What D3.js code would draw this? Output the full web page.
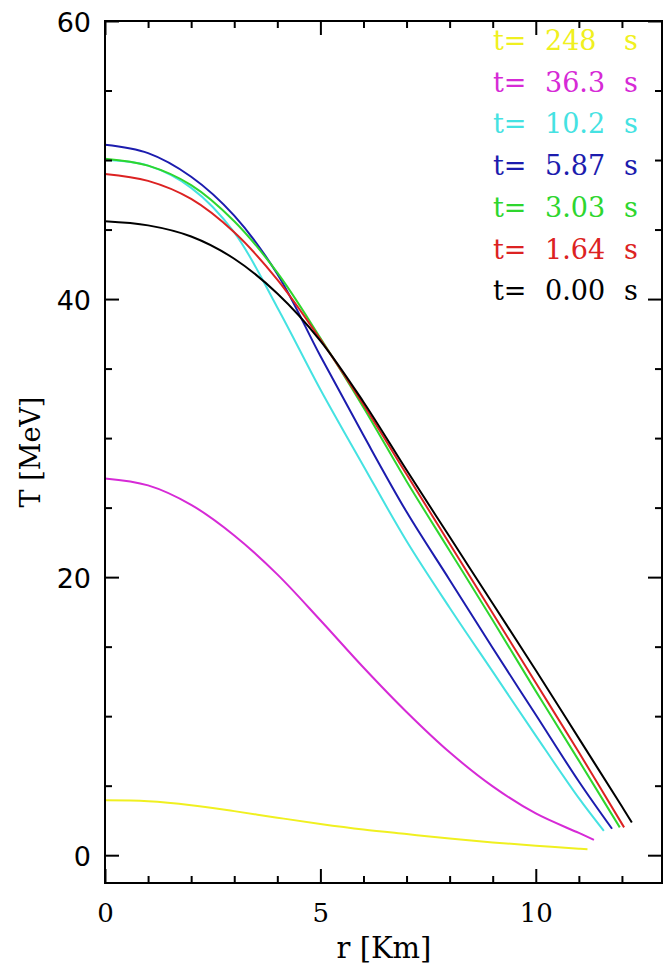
<!DOCTYPE html>
<html>
<head>
<meta charset="utf-8">
<script src="https://cdn.jsdelivr.net/npm/d3@7"></script>
<style>
  html, body { margin: 0; padding: 0; background: #fff; }
  svg { display: block; }
</style>
</head>
<body>
<svg id="chart" width="664" height="968"></svg>
<script>
// Temperature profiles T(r) of a cooling compact star at several times.
const timeLabels = ["248", "36.3", "10.2", "5.87", "3.03", "1.64", "0.00"];
const seriesColors = ["#f0f020", "#d62ad6", "#45e2e2", "#1c1cae", "#2ed62e", "#dc2222", "#000000"];

// radius [km] and temperature [MeV] for each curve
const r248 = [0, 1, 2, 3, 4, 5, 6, 7, 8, 9, 10, 11, 11.2];
const T248 = [3.95, 3.88, 3.6, 3.17, 2.7, 2.25, 1.85, 1.52, 1.2, 0.92, 0.68, 0.47, 0.43];
const r363 = [0, 1, 2, 3, 4, 5, 6, 7, 8, 9, 10, 11, 11.35];
const T363 = [27.1, 26.6, 25.2, 23.0, 20.2, 16.9, 13.5, 10.3, 7.4, 4.95, 3.0, 1.6, 1.1];
const r102 = [0, 1, 2, 3, 4, 5, 6, 7, 8, 9, 10, 11, 11.58];
const T102 = [50.0, 49.6, 48.0, 44.8, 39.4, 33.5, 28.0, 22.6, 17.8, 13.2, 8.6, 4.1, 1.75];
const r587 = [0, 1, 2, 3, 4, 5, 6, 7, 8, 9, 10, 11, 11.77];
const T587 = [51.1, 50.5, 48.8, 46.0, 41.8, 35.9, 30.2, 24.7, 19.8, 14.9, 10.1, 5.3, 1.9];
const r303 = [0, 1, 2, 3, 4, 5, 6, 7, 8, 9, 10, 11, 11.95];
const T303 = [50.1, 49.6, 48.2, 45.6, 41.9, 37.2, 32.2, 26.9, 21.9, 16.9, 11.8, 6.8, 2.0];
const r164 = [0, 1, 2, 3, 4, 5, 6, 7, 8, 9, 10, 11, 12.05];
const T164 = [49.0, 48.5, 47.2, 44.8, 41.4, 37.1, 32.4, 27.4, 22.4, 17.4, 12.4, 7.4, 2.0];
const r000 = [0, 1, 2, 3, 4, 5, 6, 7, 8, 9, 10, 11, 12, 12.23];
const T000 = [45.6, 45.3, 44.5, 42.9, 40.4, 37.0, 32.6, 27.7, 22.9, 18.1, 13.3, 8.4, 3.5, 2.35];

const radii = [r248, r363, r102, r587, r303, r164, r000];
const temps = [T248, T363, T102, T587, T303, T164, T000];

// axis ticks
const xMajor = [0, 5, 10];
const xMinor = [1, 2, 3, 4, 6, 7, 8, 9, 11, 12];
const yMajor = [0, 20, 40, 60];
const yMinor = [5, 10, 15, 25, 30, 35, 45, 50, 55];

const svg = d3.select("#chart");
const plotL = 105, plotR = 662, plotT = 21, plotB = 883;

const x = d3.scaleLinear().domain([0, 12.93]).range([plotL, plotR]);
const y = d3.scaleLinear().domain([-2, 60]).range([plotB, plotT]);

const sans = "'DejaVu Sans', sans-serif";
const serif = "'DejaVu Serif', serif";

// curves
const line = d3.line()
  .x(d => x(d[0]))
  .y(d => y(d[1]))
  .curve(d3.curveCatmullRom.alpha(0.5));

const curves = svg.append("g").attr("fill", "none").attr("stroke-width", 2);
radii.forEach((rs, i) => {
  const pts = rs.map((r, k) => [r, temps[i][k]]);
  curves.append("path")
    .datum(pts)
    .attr("stroke", seriesColors[i])
    .attr("stroke-linejoin", "round")
    .attr("d", line);
});

// axes with inward ticks
function styleAxis(g) {
  g.select(".domain").remove();
  g.selectAll(".tick line").attr("stroke", "#000").attr("stroke-width", 2);
}

svg.append("g").attr("transform", `translate(0,${plotB})`)
  .call(d3.axisBottom(x).tickValues(xMajor).tickSize(-14))
  .call(styleAxis)
  .call(g => g.selectAll("text")
    .attr("y", 39).attr("dy", null)
    .attr("font-family", serif).attr("font-size", 26).attr("fill", "#000"));
svg.append("g").attr("transform", `translate(0,${plotB})`)
  .call(d3.axisBottom(x).tickValues(xMinor).tickSize(-7).tickFormat(""))
  .call(styleAxis);
svg.append("g").attr("transform", `translate(0,${plotT})`)
  .call(d3.axisTop(x).tickValues(xMajor).tickSize(-14).tickFormat(""))
  .call(styleAxis);
svg.append("g").attr("transform", `translate(0,${plotT})`)
  .call(d3.axisTop(x).tickValues(xMinor).tickSize(-7).tickFormat(""))
  .call(styleAxis);

svg.append("g").attr("transform", `translate(${plotL},0)`)
  .call(d3.axisLeft(y).tickValues(yMajor).tickSize(-14).tickPadding(14))
  .call(styleAxis)
  .call(g => g.selectAll("text")
    .attr("dy", "0.37em")
    .attr("font-family", sans).attr("font-size", 27).attr("fill", "#000"));
svg.append("g").attr("transform", `translate(${plotL},0)`)
  .call(d3.axisLeft(y).tickValues(yMinor).tickSize(-7).tickFormat(""))
  .call(styleAxis);
svg.append("g").attr("transform", `translate(${plotR},0)`)
  .call(d3.axisRight(y).tickValues(yMajor).tickSize(-14).tickFormat(""))
  .call(styleAxis);
svg.append("g").attr("transform", `translate(${plotR},0)`)
  .call(d3.axisRight(y).tickValues(yMinor).tickSize(-7).tickFormat(""))
  .call(styleAxis);

// frame
svg.append("rect")
  .attr("x", plotL).attr("y", plotT)
  .attr("width", plotR - plotL).attr("height", plotB - plotT)
  .attr("fill", "none").attr("stroke", "#000").attr("stroke-width", 2);

// axis titles
svg.append("text")
  .attr("x", 384).attr("y", 958)
  .attr("text-anchor", "middle")
  .attr("font-family", serif).attr("font-size", 29)
  .text("r [Km]");
svg.append("text")
  .attr("transform", "translate(40,452) rotate(-90)")
  .attr("text-anchor", "middle")
  .attr("font-family", serif).attr("font-size", 27)
  .text("T [MeV]");

// legend, top to bottom
const legend = svg.append("g").attr("font-family", serif).attr("font-size", 27);
timeLabels.forEach((lab, i) => {
  const by = 50 + i * 41.7;
  const row = legend.append("g").attr("fill", seriesColors[i]);
  row.append("text").attr("x", 493).attr("y", by).text("t=");
  row.append("text").attr("x", 545).attr("y", by).text(lab);
  row.append("text").attr("x", 624).attr("y", by).text("s");
});
</script>
</body>
</html>
